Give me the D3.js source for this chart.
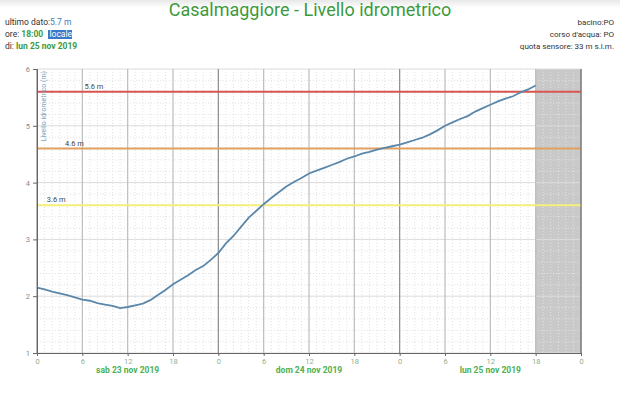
<!DOCTYPE html>
<html>
<head>
<meta charset="utf-8">
<script src="https://cdn.jsdelivr.net/npm/d3@7"></script>
<style>
  body { margin: 0; background: #fff; font-family: Roboto, "Noto Sans", sans-serif; }
</style>
</head>
<body>
<div id="chart"></div>
<script>
// hourly level readings from sat 23 nov 00:00 to mon 25 nov 18:00
const hours = d3.range(0, 67);
const levels = [
  2.15, 2.12, 2.08, 2.05, 2.02, 1.98, 1.94, 1.92, 1.88, 1.85, 1.83, 1.79,
  1.81, 1.84, 1.87, 1.93, 2.02, 2.11, 2.21, 2.29, 2.37, 2.46, 2.53, 2.64,
  2.76, 2.93, 3.06, 3.22, 3.38, 3.50, 3.62, 3.73, 3.83, 3.93, 4.01, 4.08,
  4.16, 4.21, 4.26, 4.31, 4.36, 4.42, 4.46, 4.51, 4.54, 4.58, 4.61, 4.64,
  4.67, 4.71, 4.75, 4.79, 4.85, 4.92, 5.00, 5.06, 5.12, 5.17, 5.25, 5.31,
  5.37, 5.43, 5.48, 5.52, 5.59, 5.64, 5.71
];
const thresholds = [5.6, 4.6, 3.6];
const thresholdColors = ['#d9534f', '#e0a060', '#f4ef7a'];
const thresholdLabelHour = [6.3, 3.7, 1.3];
const dayLabels = ['sab 23 nov 2019', 'dom 24 nov 2019', 'lun 25 nov 2019'];
const hourTicks = d3.range(0, 73, 6);
const yTicks = [1, 2, 3, 4, 5, 6];

const width = 620, height = 397;
const m = { left: 37, right: 581, top: 69, bottom: 353 };

const svg = d3.select('#chart').append('svg')
  .attr('width', width).attr('height', height);

// faint header shadow
const defs = svg.append('defs');
const grad = defs.append('linearGradient').attr('id', 'hdr').attr('x1', 0).attr('x2', 0).attr('y1', 0).attr('y2', 1);
grad.append('stop').attr('offset', 0).attr('stop-color', '#e8e8e8');
grad.append('stop').attr('offset', 1).attr('stop-color', '#fff');
svg.append('rect').attr('width', width).attr('height', 8).attr('fill', 'url(#hdr)');

const x = d3.scaleLinear().domain([0, 72]).range([m.left, m.right]);
const y = d3.scaleLinear().domain([1, 6]).range([m.bottom, m.top]);

// shaded future area
svg.append('rect')
  .attr('x', x(66)).attr('y', y(6))
  .attr('width', x(72) - x(66)).attr('height', y(1) - y(6))
  .attr('fill', '#c9c9c9');

// minor grid
const grid = svg.append('g');
grid.selectAll('.vminor').data(d3.range(0, 73).filter(h => h % 6 !== 0))
  .join('line')
  .attr('x1', d => x(d)).attr('x2', d => x(d))
  .attr('y1', y(6)).attr('y2', y(1))
  .attr('stroke', '#e2e2e2').attr('stroke-dasharray', '1,2');
grid.selectAll('.hminor').data(d3.range(1, 6, 0.2).filter(v => Math.abs(v - Math.round(v)) > 0.01))
  .join('line')
  .attr('x1', x(0)).attr('x2', x(72))
  .attr('y1', d => y(d)).attr('y2', d => y(d))
  .attr('stroke', '#e2e2e2').attr('stroke-dasharray', '1,2');
grid.selectAll('.hmajor').data(yTicks)
  .join('line')
  .attr('x1', x(0)).attr('x2', x(72))
  .attr('y1', d => y(d)).attr('y2', d => y(d))
  .attr('stroke', '#dcdcdc');
grid.selectAll('.vmajor').data(hourTicks)
  .join('line')
  .attr('x1', d => x(d)).attr('x2', d => x(d))
  .attr('y1', y(6)).attr('y2', y(1))
  .attr('stroke', d => d % 24 === 0 ? '#8a8a8a' : '#bdbdbd')
  .attr('stroke-width', 1.2);

// threshold lines
thresholds.forEach((t, i) => {
  svg.append('line')
    .attr('x1', x(0)).attr('x2', x(72))
    .attr('y1', y(t)).attr('y2', y(t))
    .attr('stroke', thresholdColors[i]).attr('stroke-width', 2);
  svg.append('text')
    .attr('x', x(thresholdLabelHour[i])).attr('y', y(t) - 3)
    .attr('font-size', 7.5).attr('fill', '#444')
    .text(t + ' m');
});

// level line
svg.append('path')
  .datum(hours.map((h, i) => [h, levels[i]]))
  .attr('fill', 'none')
  .attr('stroke', '#5b87aa')
  .attr('stroke-width', 1.8)
  .attr('d', d3.line().x(d => x(d[0])).y(d => y(d[1])));

// axes
const yAxis = svg.append('g').attr('transform', `translate(${m.left},0)`)
  .call(d3.axisLeft(y).tickValues(yTicks).tickSize(4).tickFormat(d3.format('d')));
yAxis.select('.domain').attr('stroke', '#666');
yAxis.selectAll('.tick line').attr('stroke', '#666');
yAxis.selectAll('text').attr('fill', '#888').attr('font-size', 7.5).attr('font-family', 'Roboto');

const xAxis = svg.append('g').attr('transform', `translate(0,${m.bottom})`)
  .call(d3.axisBottom(x).tickValues(hourTicks).tickSize(3).tickFormat(d => d % 24));
xAxis.select('.domain').attr('stroke', '#666');
xAxis.selectAll('.tick line').attr('stroke', '#666');
xAxis.selectAll('text').attr('fill', '#8fb08f').attr('font-size', 7.5).attr('font-family', 'Roboto');

svg.append('line')
  .attr('x1', m.right).attr('x2', m.right).attr('y1', y(6)).attr('y2', y(1))
  .attr('stroke', '#777');

svg.selectAll('.day').data(dayLabels)
  .join('text')
  .attr('x', (d, i) => x(i * 24 + 12)).attr('y', 373)
  .attr('text-anchor', 'middle')
  .attr('font-size', 8.5).attr('font-weight', 'bold').attr('fill', '#4caf50')
  .text(d => d);

// y axis title
svg.append('text')
  .attr('transform', `translate(${m.left + 9},${m.top + 2}) rotate(-90)`)
  .attr('text-anchor', 'end')
  .attr('font-size', 7).attr('fill', '#7fa3bf')
  .text('Livello idrometrico (m)');

// title
svg.append('text')
  .attr('x', 310).attr('y', 16).attr('text-anchor', 'middle')
  .attr('font-size', 18).attr('fill', '#3c9a3c')
  .text('Casalmaggiore - Livello idrometrico');

// left info block
const info = svg.append('g').attr('font-size', 8.5).attr('fill', '#333');
const t1 = info.append('text').attr('x', 5).attr('y', 25);
t1.append('tspan').text('ultimo dato:');
t1.append('tspan').attr('fill', '#3a7ab8').text('5.7 m');
const t2 = info.append('text').attr('x', 5).attr('y', 37);
t2.append('tspan').text('ore: ');
t2.append('tspan').attr('fill', '#3c9a3c').attr('font-weight', 'bold').text('18:00');
info.append('rect').attr('x', 48).attr('y', 30).attr('width', 24).attr('height', 9).attr('fill', '#3a78c8');
info.append('text').attr('x', 49.5).attr('y', 37).attr('fill', '#fff').text('locale');
const t3 = info.append('text').attr('x', 5).attr('y', 49);
t3.append('tspan').text('di: ');
t3.append('tspan').attr('fill', '#3c9a3c').attr('font-weight', 'bold').text('lun 25 nov 2019');

// right info block
const rinfo = svg.append('g').attr('font-size', 8).attr('fill', '#333').attr('text-anchor', 'end');
['bacino:PO', "corso d'acqua: PO", 'quota sensore: 33 m s.l.m.'].forEach((s, i) => {
  rinfo.append('text').attr('x', 614).attr('y', 25 + i * 12).text(s);
});
</script>
</body>
</html>
